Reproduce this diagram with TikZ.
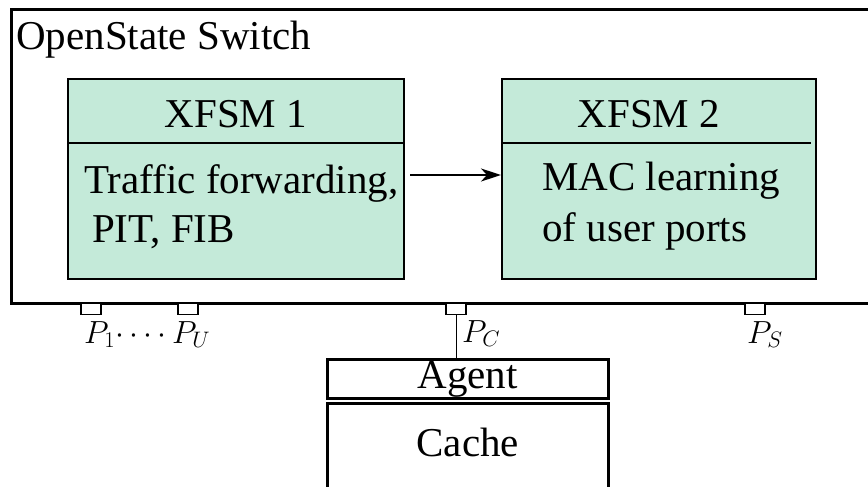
\RequirePackage{fix-cm}
\documentclass[tikz,border=0pt]{standalone}
\usepackage{fontspec}
\setmainfont{Liberation Serif}
\usetikzlibrary{arrows.meta}
\definecolor{mint}{RGB}{196,234,217}
\tikzset{
  big/.style={font=\fontsize{41}{46}\selectfont, inner sep=0pt},
  mathlbl/.style={font=\fontsize{32}{38}\selectfont, inner sep=0pt},
  fsm/.style={draw, line width=2pt, fill=mint, minimum height=200pt, inner sep=0pt},
  portbox/.style={draw, line width=1.3pt, fill=white, minimum width=20pt, minimum height=11pt, inner sep=0pt},
  hostbox/.style={draw, line width=2.5pt, minimum width=281pt, inner sep=0pt},
}
\begin{document}
\begin{tikzpicture}[x=1pt, y=-1pt]
\useasboundingbox (0,0) rectangle (868,487);
\clip (0,0) rectangle (868,487);
% outer switch box
\node[draw, line width=3pt, minimum width=880pt, minimum height=294pt, inner sep=0pt, anchor=north west] (sw) at (10,8) {};
\node[big, anchor=base west] (swl) at (16,50) {OpenState Switch};
% XFSM 1
\node[fsm, minimum width=336pt] (x1) at (236,179) {};
\draw[line width=2pt] (x1.west |- 0,143) -- (x1.east |- 0,143);
\node[big, anchor=base] (x1t) at (236,128) {XFSM 1};
\node[big, anchor=base west] (x1a) at (84,193) {Traffic forwarding,};
\node[big, anchor=base west] (x1b) at (92,242) {PIT, FIB};
% XFSM 2
\node[fsm, minimum width=314pt] (x2) at (659,179) {};
\draw[line width=2pt] (x2.west |- 0,143) -- (811,143);
\node[big, anchor=base] (x2t) at (649,128) {XFSM 2};
\node[big, anchor=base west] (x2a) at (542,190) {MAC learning};
\node[big, anchor=base west] (x2b) at (542,241) {of user ports};
% arrow
\draw[line width=2pt, -{Stealth[length=20pt, width=13pt, inset=6pt]}] ([xshift=5pt, yshift=4pt]x1.east) -- ([yshift=4pt]x2.west);
% ports
\node[portbox] (p1) at (91,309) {};
\node[portbox] (pu) at (188,309) {};
\node[portbox] (pc) at (456,309) {};
\node[portbox] (ps) at (755,309) {};
\node[mathlbl, anchor=base west] (lp1) at (84,343) {$P_1\cdotp\cdotp\cdotp\cdotp P_U$};
\node[mathlbl, anchor=base west] (lpc) at (462,342) {$P_C$};
\node[mathlbl, anchor=base west] (lps) at (747,343) {$P_S$};
% agent and cache
\node[hostbox, minimum height=39pt, anchor=north west] (agent) at (326,358) {};
\node[big, anchor=base] (agentl) at (agent.center |- 0,388) {Agent};
\node[hostbox, minimum height=100pt, anchor=north west] (cache) at (326,402) {};
\node[big, anchor=base] (cachel) at (cache.center |- 0,456) {Cache};
\draw[line width=1pt] (pc.south) -- (pc.south |- agent.north);
\end{tikzpicture}
\end{document}
